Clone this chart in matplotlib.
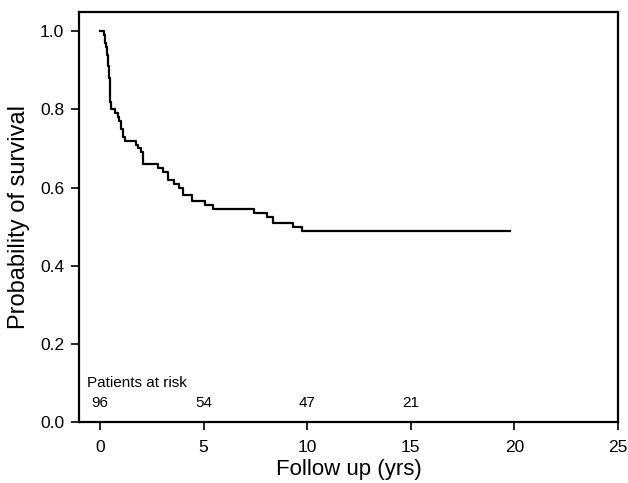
import matplotlib
matplotlib.use('Agg')
import matplotlib.pyplot as plt

plt.rcParams['font.family'] = ['Liberation Sans', 'DejaVu Sans']

# Kaplan-Meier steps: time (yrs) at which survival drops to the given level
step_times = [0.0, 0.2, 0.25, 0.3, 0.34, 0.38, 0.42, 0.46, 0.5, 0.55, 0.72,
              0.85, 0.92, 1.0, 1.1, 1.2, 1.75, 1.85, 2.0, 2.07, 2.8, 3.05,
              3.3, 3.55, 3.8, 4.0, 4.45, 5.05, 5.45, 7.45, 8.05, 8.35, 9.3,
              9.75, 19.8]
survival = [1.0, 0.99, 0.97, 0.96, 0.94, 0.91, 0.88, 0.85, 0.82, 0.80, 0.79,
            0.78, 0.77, 0.75, 0.73, 0.72, 0.71, 0.70, 0.69, 0.66, 0.65, 0.64,
            0.62, 0.61, 0.60, 0.58, 0.565, 0.555, 0.545, 0.535, 0.525, 0.51,
            0.50, 0.49, 0.49]

risk_times = [0, 5, 10, 15]
at_risk = [96, 54, 47, 21]

fig = plt.figure(figsize=(6.28, 4.83), dpi=100)
ax = fig.add_axes([0.1263, 0.1263, 0.8578, 0.8495])

ax.step(step_times, survival, where='post', color='black', lw=1.6)

ax.set_xlim(-1, 25)
ax.set_ylim(0, 1.05)
ax.set_xticks([0, 5, 10, 15, 20, 25])
ax.set_yticks([0.0, 0.2, 0.4, 0.6, 0.8, 1.0])
ax.set_yticklabels(['0.0', '0.2', '0.4', '0.6', '0.8', '1.0'])
ax.tick_params(direction='out', length=6, width=1.2, labelsize=12.5, pad=5)
ax.tick_params(axis='x', pad=7)

for s in ax.spines.values():
    s.set_linewidth(1.6)

ax.set_xlabel('Follow up (yrs)', fontsize=16, labelpad=3)
ax.set_ylabel('Probability of survival', fontsize=17, labelpad=7)

# patients at risk annotation
ax.text(-0.62, 0.10, 'Patients at risk', fontsize=11, va='center', ha='left')
for t, n in zip(risk_times, at_risk):
    ax.text(t, 0.048, str(n), fontsize=11, va='center', ha='center')

fig.savefig('out.png', dpi=100)
